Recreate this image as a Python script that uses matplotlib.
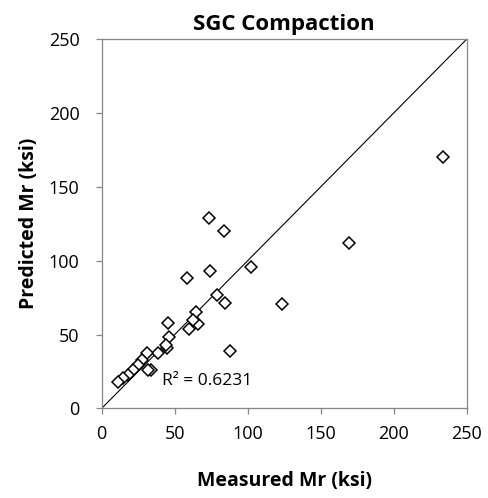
import matplotlib
matplotlib.use("Agg")
import matplotlib.pyplot as plt

plt.rcParams['font.family'] = ['Open Sans', 'DejaVu Sans']

measured = [234.0, 169.6, 123.7, 102.3, 87.9, 84.5, 83.8, 78.8, 74.2, 73.7,
            66.2, 64.4, 62.7, 60.0, 58.2, 46.1, 45.6, 44.5, 43.8, 38.8,
            33.8, 31.9, 30.8, 27.4, 25.1, 21.6, 18.2, 14.8, 11.4]
predicted = [170.0, 112.0, 70.5, 96.0, 39.0, 71.5, 120.0, 77.0, 93.0, 129.0,
             57.0, 65.0, 60.0, 53.5, 88.0, 48.5, 57.6, 41.0, 43.0, 37.3,
             25.9, 25.9, 37.3, 32.7, 29.3, 26.0, 22.6, 20.3, 18.0]
ticks = [0, 50, 100, 150, 200, 250]
r2_text = "R² = 0.6231"

fig = plt.figure(figsize=(4.89, 4.98), dpi=100)
ax = fig.add_axes([0.208, 0.180, 0.746, 0.741])

ax.plot([0, 250], [0, 250], color='black', lw=0.8, zorder=1)
ax.plot(measured, predicted, linestyle='none', marker='D', markersize=6.2,
        markerfacecolor='white', markeredgecolor='black', markeredgewidth=1.1, zorder=2)

ax.set_xlim(0, 250)
ax.set_ylim(0, 250)
ax.set_xticks(ticks)
ax.set_yticks(ticks)
for s in ax.spines.values():
    s.set_color('#868686')
    s.set_linewidth(0.9)
ax.tick_params(axis='both', direction='out', length=4, width=0.9, color='#868686',
               labelsize=13)
ax.tick_params(axis='y', pad=12)
ax.tick_params(axis='x', pad=8)

ax.set_title("SGC Compaction", fontsize=16, fontweight='bold', pad=7)
ax.set_xlabel("Measured Mr (ksi)", fontsize=14, fontweight='bold', labelpad=20)
ax.set_ylabel("Predicted Mr (ksi)", fontsize=14, fontweight='bold', labelpad=7)

ax.text(41, 18.5, r2_text, fontsize=12.5, va='center', ha='left')

fig.savefig("out.png", dpi=100)
